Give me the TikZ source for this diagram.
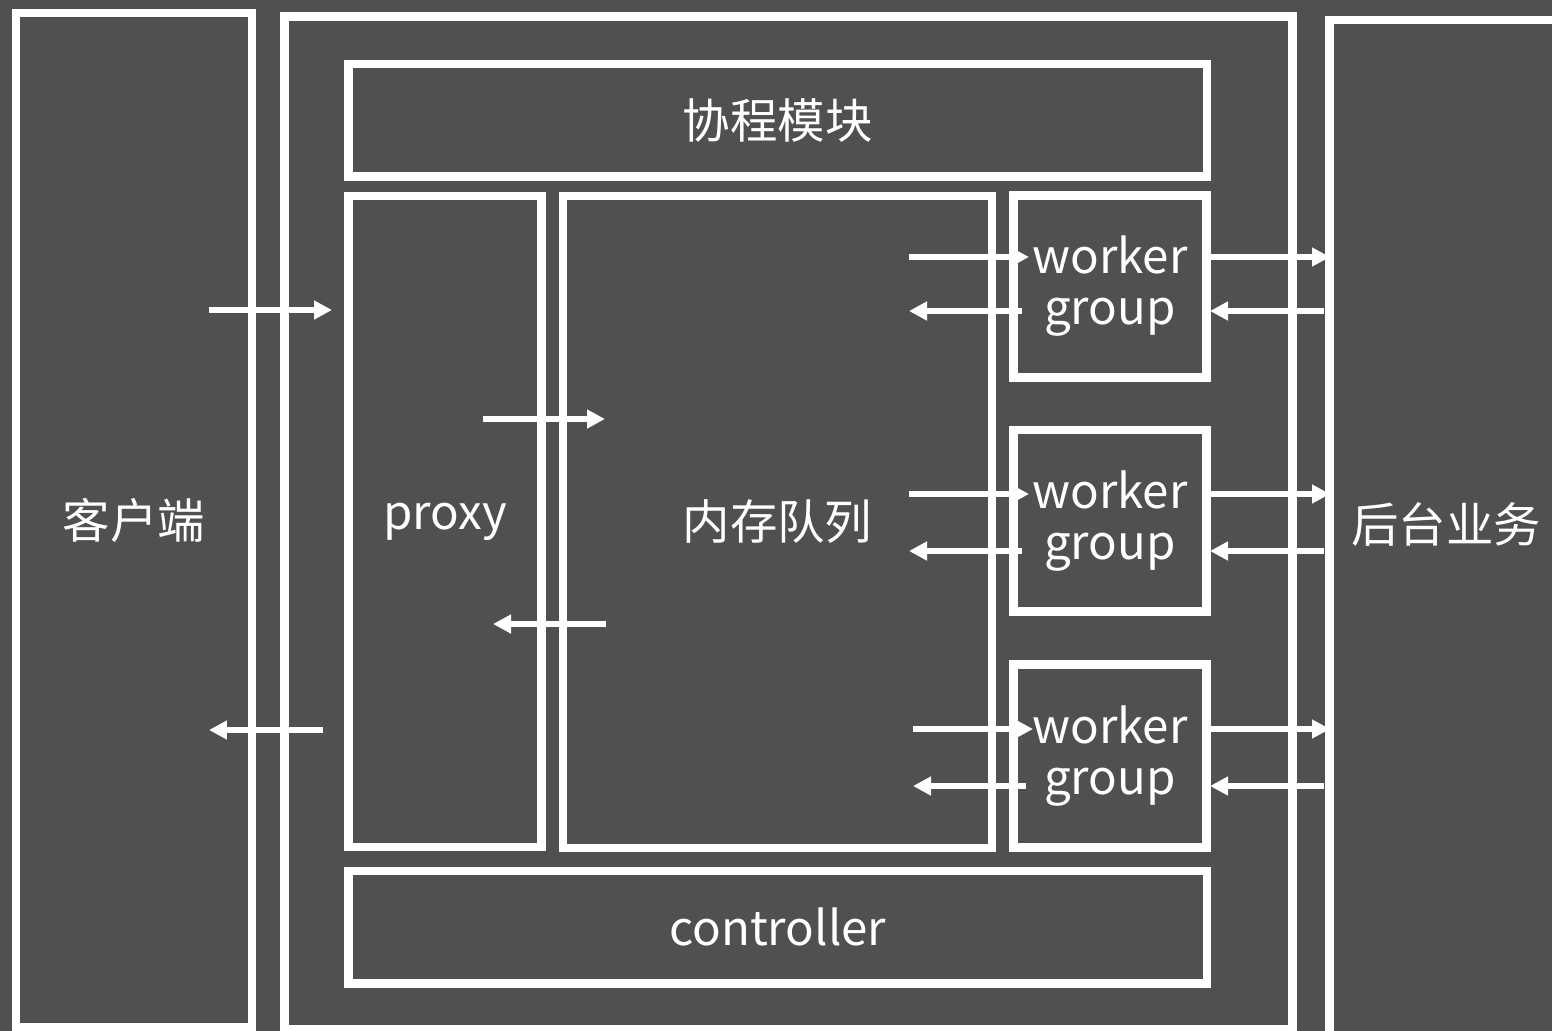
\documentclass[tikz,border=0pt]{standalone}
\usepackage{fontspec}
\setmainfont{Noto Sans CJK SC}
\usetikzlibrary{arrows.meta,positioning}
\definecolor{bggray}{RGB}{80,80,80}

\tikzset{
  box/.style={draw=white, line width=0.17cm, fill=bggray, rectangle, inner sep=0pt,
    text=white, align=center, font=\fontsize{27}{29}\selectfont},
  wh/.style 2 args={minimum width=#1*0.02cm, minimum height=#2*0.02cm},
  lbl/.style={text=white, inner sep=0pt, font=\fontsize{27}{29}\selectfont},
  flow/.style={white, line width=0.11cm, -{Triangle[length=0.36cm,width=0.36cm]}}
}

\begin{document}
\begin{tikzpicture}[x=0.02cm, y=-0.02cm]
  \useasboundingbox (0,0) rectangle (1552,1031);
  \clip (0,0) rectangle (1552,1031);
  \fill[bggray] (0,0) rectangle (1552,1031);

  % outer columns
  \node[box, wh={236}{1014}] (client) at (134,520) {客户端};
  \node[box, wh={1008}{1012.5}] (server) at (788.5,522.75) {};
  \node[box, wh={233}{1060}] (back) at (1446,550) {};
  \node[lbl] (backtxt) at (1446,524) {后台业务};

  % inside the server
  \node[box, wh={858.5}{112.5}] (coro) at (777.75,120.25) {协程模块};
  \node[box, wh={193}{651}] (proxy) at (445,521.5) {proxy};
  \node[box, wh={429}{652}] (queue) at (777.5,522) {内存队列};
  \node[box, wh={193}{182}] (wg1) at (1110,286.5) {worker\\group};
  \node[box, wh={193}{181.5}] (wg2) at (1110,520.75) {worker\\group};
  \node[box, wh={193}{183}] (wg3) at (1110,756) {worker\\group};
  \node[box, wh={858.5}{112.5}] (ctrl) at (777.75,927.25) {controller};

  % client <-> proxy <-> queue
  \coordinate (cin) at (209,310);   \coordinate (pin) at (332,310);
  \coordinate (pout) at (323,730);  \coordinate (cout) at (209,730);
  \coordinate (pq) at (483,419);    \coordinate (qp) at (605,419);
  \coordinate (qr) at (606,624);    \coordinate (pr) at (493,624);
  \draw[flow] (cin) -- (pin);
  \draw[flow] (pout) -- (cout);
  \draw[flow] (pq) -- (qp);
  \draw[flow] (qr) -- (pr);

  % queue <-> worker groups <-> backend
  \foreach \i/\ya/\yb/\xs in {1/257/311/909, 2/494/551/909, 3/729/786/913}{
    \coordinate (qs\i) at (\xs,\ya);       \coordinate (wt\i) at (\xs+120,\ya);
    \coordinate (ws\i) at (\xs+113,\yb);   \coordinate (qt\i) at (\xs,\yb);
    \coordinate (bs\i) at (1210,\ya);      \coordinate (bt\i) at (1330,\ya);
    \coordinate (br\i) at (1324,\yb);      \coordinate (wr\i) at (1210,\yb);
    \draw[flow] (qs\i) -- (wt\i);
    \draw[flow] (ws\i) -- (qt\i);
    \draw[flow] (bs\i) -- (bt\i);
    \draw[flow] (br\i) -- (wr\i);
  }
\end{tikzpicture}
\end{document}
